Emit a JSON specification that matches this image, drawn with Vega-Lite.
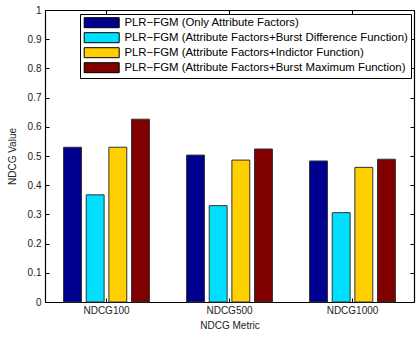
{
  "$schema": "https://vega.github.io/schema/vega-lite/v6.json",
  "width": 369,
  "height": 292,
  "autosize": {"type": "none"},
  "padding": {"left": 45, "top": 10, "right": 2, "bottom": 35},
  "background": "white",
  "data": {
    "values": [
      {"metric": "NDCG100", "method": "PLR−FGM (Only Attribute Factors)", "value": 0.53},
      {"metric": "NDCG100", "method": "PLR−FGM (Attribute Factors+Burst Difference Function)", "value": 0.367},
      {"metric": "NDCG100", "method": "PLR−FGM (Attribute Factors+Indictor Function)", "value": 0.53},
      {"metric": "NDCG100", "method": "PLR−FGM (Attribute Factors+Burst Maximum Function)", "value": 0.626},
      {"metric": "NDCG500", "method": "PLR−FGM (Only Attribute Factors)", "value": 0.503},
      {"metric": "NDCG500", "method": "PLR−FGM (Attribute Factors+Burst Difference Function)", "value": 0.33},
      {"metric": "NDCG500", "method": "PLR−FGM (Attribute Factors+Indictor Function)", "value": 0.486},
      {"metric": "NDCG500", "method": "PLR−FGM (Attribute Factors+Burst Maximum Function)", "value": 0.524},
      {"metric": "NDCG1000", "method": "PLR−FGM (Only Attribute Factors)", "value": 0.483},
      {"metric": "NDCG1000", "method": "PLR−FGM (Attribute Factors+Burst Difference Function)", "value": 0.306},
      {"metric": "NDCG1000", "method": "PLR−FGM (Attribute Factors+Indictor Function)", "value": 0.461},
      {"metric": "NDCG1000", "method": "PLR−FGM (Attribute Factors+Burst Maximum Function)", "value": 0.489}
    ]
  },
  "config": {
    "view": {"stroke": null},
    "font": "Liberation Sans",
    "axis": {
      "labelFont": "Liberation Sans",
      "titleFont": "Liberation Sans",
      "labelFontSize": 10,
      "titleFontSize": 10,
      "titleFontWeight": "normal",
      "labelColor": "#222",
      "titleColor": "#222",
      "domainColor": "black",
      "tickColor": "black",
      "labelOverlap": false,
      "grid": false
    },
    "legend": {
      "orient": "none",
      "legendX": 35,
      "legendY": 4,
      "direction": "vertical",
      "strokeColor": "black",
      "fillColor": "white",
      "padding": 3,
      "symbolType": "M-3.5,-1H3.5V1H-3.5Z",
      "symbolSize": 100,
      "symbolOffset": 13,
      "labelOffset": 17,
      "symbolStrokeColor": "black",
      "symbolStrokeWidth": 1,
      "labelFont": "Liberation Sans",
      "labelFontSize": 11.4,
      "labelColor": "black",
      "labelLimit": 400,
      "rowPadding": 0
    }
  },
  "encoding": {
    "x": {
      "field": "metric",
      "type": "nominal",
      "sort": ["NDCG100", "NDCG500", "NDCG1000"],
      "scale": {"paddingInner": 0, "paddingOuter": 0}
    },
    "xOffset": {
      "field": "method",
      "type": "nominal",
      "sort": [
        "PLR−FGM (Only Attribute Factors)",
        "PLR−FGM (Attribute Factors+Burst Difference Function)",
        "PLR−FGM (Attribute Factors+Indictor Function)",
        "PLR−FGM (Attribute Factors+Burst Maximum Function)"
      ],
      "scale": {"paddingInner": 0.21, "paddingOuter": 0.82}
    },
    "y": {
      "field": "value",
      "type": "quantitative",
      "scale": {"domain": [0, 1], "nice": false}
    }
  },
  "layer": [
    {
      "mark": {"type": "bar", "stroke": "#333", "strokeWidth": 1},
      "encoding": {
        "x": {
          "field": "metric",
          "type": "nominal",
          "sort": ["NDCG100", "NDCG500", "NDCG1000"],
          "scale": {"paddingInner": 0, "paddingOuter": 0},
          "axis": {"title": "NDCG Metric", "labelAngle": 0, "tickSize": -4, "labelPadding": 7, "titlePadding": 5, "domainWidth": 1.2}
        },
        "y": {
          "field": "value",
          "type": "quantitative",
          "scale": {"domain": [0, 1], "nice": false},
          "axis": {"title": "NDCG Value", "values": [0,0.1,0.2,0.3,0.4,0.5,0.6,0.7,0.8,0.9,1], "format": "~g", "tickSize": -4, "labelPadding": 8, "titlePadding": 10, "domainWidth": 1.2}
        },
        "color": {
          "field": "method",
          "type": "nominal",
          "sort": [
            "PLR−FGM (Only Attribute Factors)",
            "PLR−FGM (Attribute Factors+Burst Difference Function)",
            "PLR−FGM (Attribute Factors+Indictor Function)",
            "PLR−FGM (Attribute Factors+Burst Maximum Function)"
          ],
          "scale": {"range": ["#00008F", "#00DFFF", "#FFCF00", "#800000"]},
          "legend": {"title": null}
        }
      }
    },
    {
      "mark": {"type": "bar", "opacity": 0},
      "encoding": {
        "x": {
          "field": "metric",
          "type": "nominal",
          "sort": ["NDCG100", "NDCG500", "NDCG1000"],
          "axis": {"orient": "top", "title": null, "labels": false, "tickSize": -4, "domainWidth": 1.2}
        },
        "y": {
          "field": "value",
          "type": "quantitative",
          "axis": {"orient": "right", "title": null, "labels": false, "values": [0,0.1,0.2,0.3,0.4,0.5,0.6,0.7,0.8,0.9,1], "tickSize": -4, "domainWidth": 1.2}
        }
      }
    }
  ],
  "resolve": {"axis": {"x": "independent", "y": "independent"}}
}
